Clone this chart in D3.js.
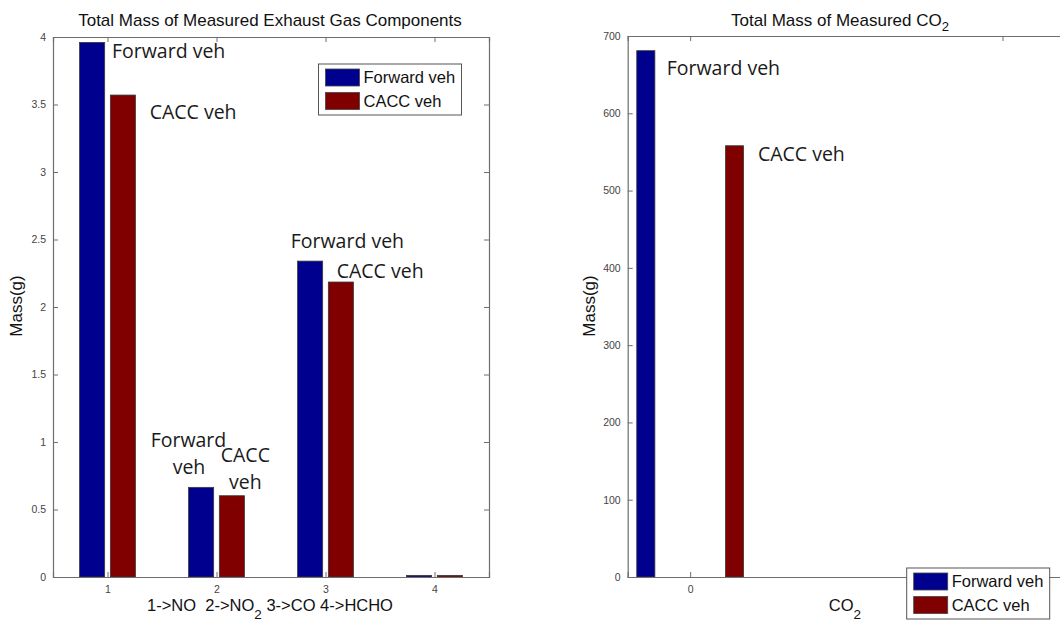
<!DOCTYPE html>
<html>
<head>
<meta charset="utf-8">
<script src="https://cdn.jsdelivr.net/npm/d3@7"></script>
<style>
  body { margin: 0; background: #fff; }
  svg { display: block; }
</style>
</head>
<body>
<script>
// Chart data
var seriesNames = ["Forward veh", "CACC veh"];

// left panel: 1->NO 2->NO2 3->CO 4->HCHO
var gasCategories = [1, 2, 3, 4];
var forwardMass = [3.96, 0.664, 2.34, 0.012];
var caccMass = [3.57, 0.602, 2.185, 0.012];
var gasXTicks = [1, 2, 3, 4];
var gasYTicks = [0, 0.5, 1, 1.5, 2, 2.5, 3, 3.5, 4];

// right panel: CO2
var co2Categories = [0];
var forwardCO2 = [681];
var caccCO2 = [558];
var co2XTicks = [0, 1];
var co2XLabels = ["0", ""]; // the label of tick 1 sits under the legend
var co2YTicks = [0, 100, 200, 300, 400, 500, 600, 700];

var colors = ["#00008f", "#800000"];
var axisColor = "#6e6e6e";
var tickFont = "Liberation Sans, Arial, sans-serif";
var noteFont = "'Open Sans', 'Noto Sans', sans-serif";

var svgWidth = 1060;
var svgHeight = 621;

var svg = d3.select("body")
  .append("svg")
  .attr("width", svgWidth)
  .attr("height", svgHeight);

svg.append("rect")
  .attr("width", svgWidth)
  .attr("height", svgHeight)
  .attr("fill", "#fff");

// draw one MATLAB-like bar panel
function drawPanel(cfg) {
  var x = d3.scaleLinear().domain(cfg.xDomain).range([cfg.left, cfg.right]);
  var y = d3.scaleLinear().domain(cfg.yDomain).range([cfg.bottom, cfg.top]);

  var g = svg.append("g");

  // bars
  var rows = cfg.categories.map(function(c, i) {
    return { cat: c, vals: [cfg.series[0][i], cfg.series[1][i]] };
  });
  rows.forEach(function(r) {
    r.vals.forEach(function(v, s) {
      var center = r.cat + (s === 0 ? -cfg.offset : cfg.offset);
      g.append("rect")
        .attr("x", x(center - cfg.barHalf))
        .attr("y", y(v))
        .attr("width", x(center + cfg.barHalf) - x(center - cfg.barHalf))
        .attr("height", y(0) - y(v))
        .attr("fill", colors[s])
        .attr("stroke", "#3a3a3a")
        .attr("stroke-width", 0.8);
    });
  });

  // axes, ticks pointing inward
  var bottomAxis = g.append("g")
    .attr("transform", "translate(0," + cfg.bottom + ")")
    .call(d3.axisBottom(x).tickValues(cfg.xTicks).tickSize(-5).tickPadding(9).tickFormat(cfg.xFormat));
  var topAxis = g.append("g")
    .attr("transform", "translate(0," + cfg.top + ")")
    .call(d3.axisTop(x).tickValues(cfg.xTicks).tickSize(-5).tickFormat(""));
  var leftAxis = g.append("g")
    .attr("transform", "translate(" + cfg.left + ",0)")
    .call(d3.axisLeft(y).tickValues(cfg.yTicks).tickSize(-5).tickPadding(7).tickFormat(function(d) { return d; }));
  var rightAxis = g.append("g")
    .attr("transform", "translate(" + cfg.right + ",0)")
    .call(d3.axisRight(y).tickValues(cfg.yTicks).tickSize(-5).tickFormat(""));

  [bottomAxis, topAxis, leftAxis, rightAxis].forEach(function(a) {
    a.select(".domain").attr("stroke", axisColor).attr("stroke-width", 1.2);
    a.selectAll(".tick line").attr("stroke", axisColor);
    a.selectAll("text")
      .attr("fill", "#444")
      .style("font-family", tickFont)
      .style("font-size", "10.5px");
  });

  // title
  var title = g.append("text")
    .attr("x", cfg.titleX)
    .attr("y", 26)
    .attr("text-anchor", "middle")
    .style("font-family", tickFont)
    .style("font-size", "17px")
    .attr("fill", "#111");
  cfg.title.forEach(function(p) {
    title.append("tspan")
      .attr("dy", p.sub ? 5 : (p.back ? -5 : null))
      .style("font-size", p.sub ? "13px" : null)
      .text(p.t);
  });

  // y label
  g.append("text")
    .attr("transform", "translate(" + cfg.yLabelX + ",306) rotate(-90)")
    .attr("text-anchor", "middle")
    .style("font-family", tickFont)
    .style("font-size", "17px")
    .attr("fill", "#111")
    .text("Mass(g)");

  // x label
  var xl = g.append("text")
    .attr("x", cfg.xLabelX)
    .attr("y", 611)
    .attr("text-anchor", "middle")
    .style("font-family", tickFont)
    .style("font-size", "16.5px")
    .attr("fill", "#111");
  cfg.xLabel.forEach(function(p) {
    xl.append("tspan")
      .attr("dy", p.sub ? 8 : (p.back ? -8 : null))
      .style("font-size", p.sub ? "13.5px" : null)
      .attr("xml:space", "preserve")
      .text(p.t);
  });

  // bar annotations
  cfg.notes.forEach(function(n) {
    g.append("text")
      .attr("x", x(n.x))
      .attr("y", y(n.y))
      .style("font-family", noteFont)
      .style("font-size", "19.5px")
      .attr("fill", "#1a1a1a")
      .text(n.t);
  });

  // legend
  var lg = g.append("g").attr("transform", "translate(" + cfg.legend[0] + "," + cfg.legend[1] + ")");
  lg.append("rect")
    .attr("width", 143).attr("height", 51)
    .attr("fill", "#fff")
    .attr("stroke", "#555")
    .attr("stroke-width", 1);
  seriesNames.forEach(function(name, i) {
    lg.append("rect")
      .attr("x", 7).attr("y", 5 + i * 23.5)
      .attr("width", 34).attr("height", 17)
      .attr("fill", colors[i])
      .attr("stroke", "#444")
      .attr("stroke-width", 0.8);
    lg.append("text")
      .attr("x", 45).attr("y", 19 + i * 23.5)
      .style("font-family", tickFont)
      .style("font-size", "16.5px")
      .attr("fill", "#111")
      .text(name);
  });
}

drawPanel({
  categories: gasCategories,
  series: [forwardMass, caccMass],
  xDomain: [0.5, 4.5], yDomain: [0, 4],
  xTicks: gasXTicks, yTicks: gasYTicks,
  xFormat: d3.format("d"),
  left: 53, right: 489, top: 37, bottom: 577,
  offset: 0.141, barHalf: 0.115,
  title: [{ t: "Total Mass of Measured Exhaust Gas Components" }],
  titleX: 270,
  yLabelX: 22,
  xLabel: [{ t: "1->NO  2->NO" }, { t: "2", sub: true }, { t: " 3->CO 4->HCHO", back: true }],
  xLabelX: 270,
  legend: [318.5, 64],
  notes: [
    { t: "Forward veh", x: 1.041, y: 3.844 },
    { t: "CACC veh", x: 1.387, y: 3.393 },
    { t: "Forward", x: 1.396, y: 0.965 },
    { t: "veh", x: 1.598, y: 0.763 },
    { t: "CACC", x: 2.039, y: 0.852 },
    { t: "veh", x: 2.115, y: 0.652 },
    { t: "Forward veh", x: 2.681, y: 2.435 },
    { t: "CACC veh", x: 3.103, y: 2.215 }
  ]
});

drawPanel({
  categories: co2Categories,
  series: [forwardCO2, caccCO2],
  xDomain: [-0.2, 1.2], yDomain: [0, 700],
  xTicks: co2XTicks, yTicks: co2YTicks,
  xFormat: function(d, i) { return co2XLabels[i]; },
  left: 627.7, right: 1065, top: 36, bottom: 577,
  offset: 0.142, barHalf: 0.029,
  title: [{ t: "Total Mass of Measured CO" }, { t: "2", sub: true }],
  titleX: 840,
  yLabelX: 595,
  xLabel: [{ t: "CO" }, { t: "2", sub: true }],
  xLabelX: 845,
  legend: [906.7, 568],
  notes: [
    { t: "Forward veh", x: -0.075, y: 649 },
    { t: "CACC veh", x: 0.217, y: 538.6 }
  ]
});
</script>
</body>
</html>
